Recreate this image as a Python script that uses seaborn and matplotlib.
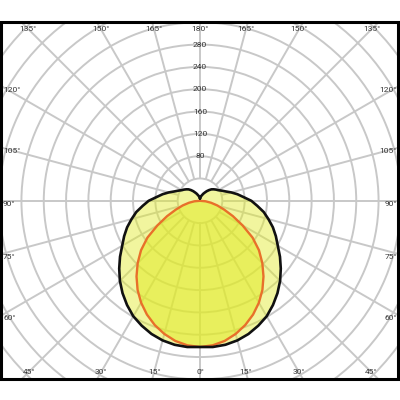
import numpy as np
import matplotlib
matplotlib.use("Agg")
import matplotlib.pyplot as plt
import seaborn as sns
from matplotlib.patches import Rectangle

sns.set_style("white")
plt.rcParams['font.family'] = ['Roboto', 'DejaVu Sans']

# luminous intensity (cd/klm), gamma 0..180 deg
angles = [0, 5, 10, 15, 20, 25, 30, 35, 40, 45, 50, 55, 60, 65, 70, 75, 80, 85, 90,
          95, 100, 105, 110, 115, 120, 125, 130, 135, 140, 145, 150, 155, 160, 165,
          170, 175, 180]
c0_c180 = [262, 263, 262, 259, 254, 247, 239, 228, 216, 203, 189, 175, 161, 150, 139,
           127, 116, 103, 92, 78, 68, 58, 49, 43, 38, 35, 32, 29, 25, 21, 17, 14, 11,
           9, 7, 5, 4]
c90_c270 = [262, 260, 255, 247, 237, 225, 211, 195, 177, 158, 138, 115, 88, 65, 46,
            32, 20, 10, 0, 0, 0, 0, 0, 0, 0, 0, 0, 0, 0, 0, 0, 0, 0, 0, 0, 0, 0]
r_labels = [80, 120, 160, 200, 240, 280]
angle_labels = [0, 15, 30, 45, 60, 75, 90, 105, 120, 135, 150, 165, 180]


def mirror(a, v):
    a = np.asarray(a, float)
    v = np.asarray(v, float)
    th = np.concatenate([-a[::-1], a[1:]])
    rr = np.concatenate([v[::-1], v[1:]])
    return np.deg2rad(th), rr


W = H = 400
cx, cy = 200.0, 200.8          # centre in pixels (from top)
scale = 0.558                  # px per cd/klm
rmax = 520
R = rmax * scale
grid_c = '#c8c8c8'

fig = plt.figure(figsize=(4, 4), dpi=100)
ax = fig.add_axes([(cx - R) / W, (H - cy - R) / H, 2 * R / W, 2 * R / H],
                  projection='polar')
ax.set_theta_zero_location('S')
ax.set_ylim(0, rmax)
ax.set_yticks(np.arange(40, rmax + 1, 40))
ax.set_yticklabels([])
ax.set_xticks([])
ax.yaxis.grid(True, color=grid_c, lw=1.4)
ax.xaxis.grid(False)
ax.spines['polar'].set_visible(False)
# radial lines every 15 deg, starting at the first ring
ax.vlines(np.deg2rad(np.arange(0, 360, 15)), 40, rmax, color=grid_c, lw=1.4,
          zorder=1)

th1, r1 = mirror(angles, c0_c180)
th2, r2 = mirror(angles, c90_c270)
ax.fill(th1, r1, color='#e1eb28', alpha=0.45, lw=0, zorder=3)
ax.fill(th2, r2, color='#e1eb28', alpha=0.55, lw=0, zorder=3)
sns.lineplot(x=th2, y=r2, ax=ax, sort=False, estimator=None, color='#e8702a',
             lw=1.7, zorder=4)
sns.lineplot(x=th1, y=r1, ax=ax, sort=False, estimator=None, color='#111111',
             lw=1.9, zorder=5)
ax.set_xlabel('')
ax.set_ylabel('')

for v in r_labels:
    ax.text(np.pi, v, str(v), ha='center', va='center', fontsize=6,
            color='#333333', zorder=6)

# overlay: white bands + frame
ov = fig.add_axes([0, 0, 1, 1], zorder=10)
ov.set_xlim(0, W)
ov.set_ylim(H, 0)
ov.axis('off')
ov.patch.set_visible(False)
ov.add_patch(Rectangle((0, 0), W, 21, color='white', lw=0))
ov.add_patch(Rectangle((0, 379), W, 21, color='white', lw=0))
ov.add_patch(Rectangle((1.2, 21.5), 397, 357, fill=False, ec='black', lw=2.2))

top_y, bot_y, left_x, right_x = 29, 372, 3, 397
for a in angle_labels:
    for sgn in ([1] if a in (0, 180) else [-1, 1]):
        rad = np.deg2rad(a)
        dx = sgn * np.sin(rad)
        dy = np.cos(rad)        # screen-down positive
        ts = []
        if dy > 1e-9:
            ts.append(((bot_y - cy) / dy, 'b'))
        if dy < -1e-9:
            ts.append(((top_y - cy) / dy, 't'))
        if abs(dx) > 1e-9:
            ts.append((((left_x if dx < 0 else right_x) - cx) / dx, 's'))
        t, side = min(ts)
        x, y = cx + t * dx, cy + t * dy
        if side == 's':
            ha = 'left' if dx < 0 else 'right'
            y += 3
        else:
            ha = 'center'
        ov.text(x, y, f"{a}°", ha=ha, va='center', fontsize=6, color='#333333')

fig.savefig('out.png', dpi=100)
